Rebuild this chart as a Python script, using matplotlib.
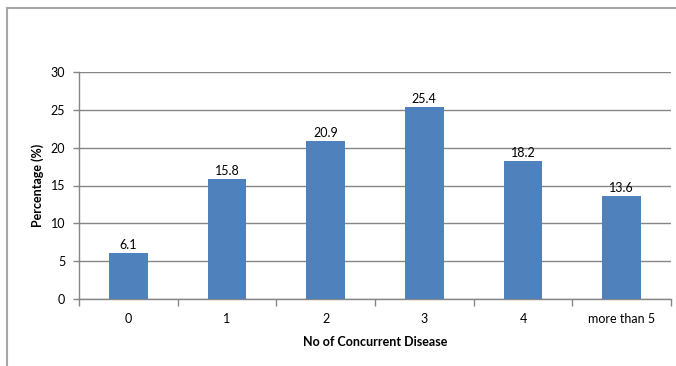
import matplotlib.pyplot as plt
from matplotlib.lines import Line2D

categories = ["0", "1", "2", "3", "4", "more than 5"]
percentages = [6.1, 15.8, 20.9, 25.4, 18.2, 13.6]
y_ticks = [0, 5, 10, 15, 20, 25, 30]

plt.rcParams['font.family'] = ['Lato', 'DejaVu Sans']

fig = plt.figure(figsize=(6.76, 3.66), dpi=100)
ax = fig.add_axes([79 / 676, 1 - 299 / 366, 592 / 676, 227 / 366])

x = list(range(len(categories)))
bars = ax.bar(x, percentages, width=0.39, color="#4F81BD", zorder=3)
for b, v in zip(bars, percentages):
    ax.text(b.get_x() + b.get_width() / 2, v + 0.3, f"{v}", ha="center",
            va="bottom", fontsize=9, color="black")

ax.set_xlim(-0.5, len(categories) - 0.5)
ax.set_ylim(0, 30)
ax.set_yticks(y_ticks)
ax.set_xticks(x)
ax.set_xticklabels(categories, fontsize=9)
ax.tick_params(axis="y", labelsize=9, length=4, color="#868686", width=1, pad=6)
ax.tick_params(axis="x", length=0, pad=10)
# category boundary ticks
ax.set_xticks([i - 0.5 for i in range(len(categories) + 1)], minor=True)
ax.tick_params(axis="x", which="minor", length=5, color="#868686", width=1)

ax.grid(axis="y", color="#868686", linewidth=1, zorder=0)
for s in ["top", "right"]:
    ax.spines[s].set_visible(False)
for s in ["left", "bottom"]:
    ax.spines[s].set_color("#868686")
    ax.spines[s].set_linewidth(1)

ax.set_ylabel("Percentage (%)", fontsize=9, fontweight="bold", labelpad=5)
ax.set_xlabel("No of Concurrent Disease", fontsize=9, fontweight="bold", labelpad=8)

# chart border (top and left edges visible)
fig.add_artist(Line2D([7 / 676, 1], [1 - 8 / 366, 1 - 8 / 366], color="#a6a6a6", linewidth=1.5))
fig.add_artist(Line2D([7 / 676, 7 / 676], [0, 1 - 8 / 366], color="#a6a6a6", linewidth=1.5))

fig.savefig("out.png", dpi=100)
